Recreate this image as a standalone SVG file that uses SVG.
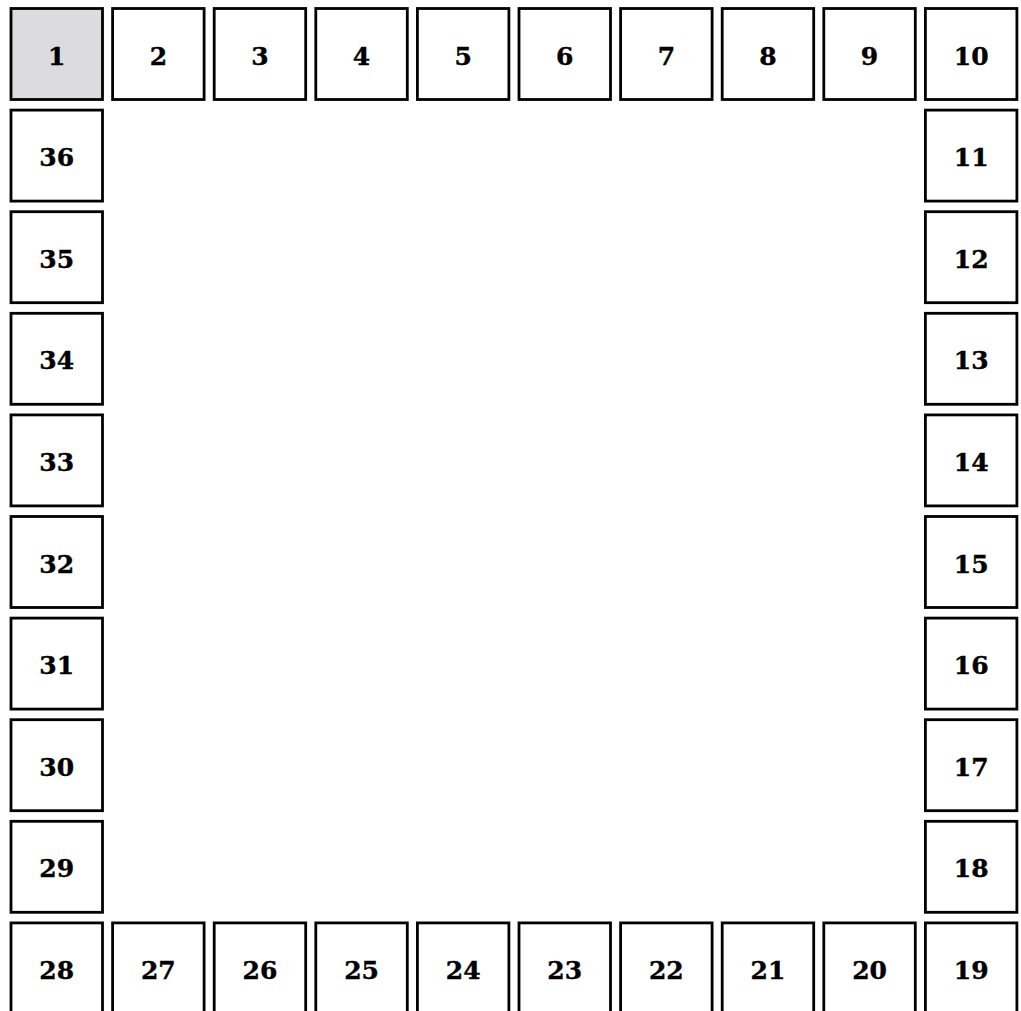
<svg xmlns="http://www.w3.org/2000/svg" width="1021" height="1011" viewBox="0 0 1021 1011">
<style>
.b{fill:#ffffff;stroke:#000000;stroke-width:2.8}
.s{fill:#dcdcde}
.t{font-family:"DejaVu Serif","Liberation Serif",serif;font-weight:bold;font-size:25px;text-anchor:middle;dominant-baseline:central;fill:#000;stroke:#000;stroke-width:0.4}
</style>
<rect width="1021" height="1011" fill="#ffffff"/>
<g id="connectors"></g>
<g id="n1"><rect class="b s" x="11" y="8.5" width="91.5" height="91"/><text class="t" x="56.75" y="56">1</text></g>
<g id="n2"><rect class="b" x="112.6" y="8.5" width="91.5" height="91"/><text class="t" x="158.35" y="56">2</text></g>
<g id="n3"><rect class="b" x="214.2" y="8.5" width="91.5" height="91"/><text class="t" x="259.95" y="56">3</text></g>
<g id="n4"><rect class="b" x="315.8" y="8.5" width="91.5" height="91"/><text class="t" x="361.55" y="56">4</text></g>
<g id="n5"><rect class="b" x="417.4" y="8.5" width="91.5" height="91"/><text class="t" x="463.15" y="56">5</text></g>
<g id="n6"><rect class="b" x="519" y="8.5" width="91.5" height="91"/><text class="t" x="564.75" y="56">6</text></g>
<g id="n7"><rect class="b" x="620.6" y="8.5" width="91.5" height="91"/><text class="t" x="666.35" y="56">7</text></g>
<g id="n8"><rect class="b" x="722.2" y="8.5" width="91.5" height="91"/><text class="t" x="767.95" y="56">8</text></g>
<g id="n9"><rect class="b" x="823.8" y="8.5" width="91.5" height="91"/><text class="t" x="869.55" y="56">9</text></g>
<g id="n10"><rect class="b" x="925.4" y="8.5" width="91.5" height="91"/><text class="t" x="971.15" y="56">10</text></g>
<g id="n11"><rect class="b" x="925.4" y="110.1" width="91.5" height="91"/><text class="t" x="971.15" y="157.6">11</text></g>
<g id="n12"><rect class="b" x="925.4" y="211.7" width="91.5" height="91"/><text class="t" x="971.15" y="259.2">12</text></g>
<g id="n13"><rect class="b" x="925.4" y="313.3" width="91.5" height="91"/><text class="t" x="971.15" y="360.8">13</text></g>
<g id="n14"><rect class="b" x="925.4" y="414.9" width="91.5" height="91"/><text class="t" x="971.15" y="462.4">14</text></g>
<g id="n15"><rect class="b" x="925.4" y="516.5" width="91.5" height="91"/><text class="t" x="971.15" y="564">15</text></g>
<g id="n16"><rect class="b" x="925.4" y="618.1" width="91.5" height="91"/><text class="t" x="971.15" y="665.6">16</text></g>
<g id="n17"><rect class="b" x="925.4" y="719.7" width="91.5" height="91"/><text class="t" x="971.15" y="767.2">17</text></g>
<g id="n18"><rect class="b" x="925.4" y="821.3" width="91.5" height="91"/><text class="t" x="971.15" y="868.8">18</text></g>
<g id="n19"><rect class="b" x="925.4" y="922.9" width="91.5" height="91"/><text class="t" x="971.15" y="970.4">19</text></g>
<g id="n20"><rect class="b" x="823.8" y="922.9" width="91.5" height="91"/><text class="t" x="869.55" y="970.4">20</text></g>
<g id="n21"><rect class="b" x="722.2" y="922.9" width="91.5" height="91"/><text class="t" x="767.95" y="970.4">21</text></g>
<g id="n22"><rect class="b" x="620.6" y="922.9" width="91.5" height="91"/><text class="t" x="666.35" y="970.4">22</text></g>
<g id="n23"><rect class="b" x="519" y="922.9" width="91.5" height="91"/><text class="t" x="564.75" y="970.4">23</text></g>
<g id="n24"><rect class="b" x="417.4" y="922.9" width="91.5" height="91"/><text class="t" x="463.15" y="970.4">24</text></g>
<g id="n25"><rect class="b" x="315.8" y="922.9" width="91.5" height="91"/><text class="t" x="361.55" y="970.4">25</text></g>
<g id="n26"><rect class="b" x="214.2" y="922.9" width="91.5" height="91"/><text class="t" x="259.95" y="970.4">26</text></g>
<g id="n27"><rect class="b" x="112.6" y="922.9" width="91.5" height="91"/><text class="t" x="158.35" y="970.4">27</text></g>
<g id="n28"><rect class="b" x="11" y="922.9" width="91.5" height="91"/><text class="t" x="56.75" y="970.4">28</text></g>
<g id="n29"><rect class="b" x="11" y="821.3" width="91.5" height="91"/><text class="t" x="56.75" y="868.8">29</text></g>
<g id="n30"><rect class="b" x="11" y="719.7" width="91.5" height="91"/><text class="t" x="56.75" y="767.2">30</text></g>
<g id="n31"><rect class="b" x="11" y="618.1" width="91.5" height="91"/><text class="t" x="56.75" y="665.6">31</text></g>
<g id="n32"><rect class="b" x="11" y="516.5" width="91.5" height="91"/><text class="t" x="56.75" y="564">32</text></g>
<g id="n33"><rect class="b" x="11" y="414.9" width="91.5" height="91"/><text class="t" x="56.75" y="462.4">33</text></g>
<g id="n34"><rect class="b" x="11" y="313.3" width="91.5" height="91"/><text class="t" x="56.75" y="360.8">34</text></g>
<g id="n35"><rect class="b" x="11" y="211.7" width="91.5" height="91"/><text class="t" x="56.75" y="259.2">35</text></g>
<g id="n36"><rect class="b" x="11" y="110.1" width="91.5" height="91"/><text class="t" x="56.75" y="157.6">36</text></g>
</svg>
